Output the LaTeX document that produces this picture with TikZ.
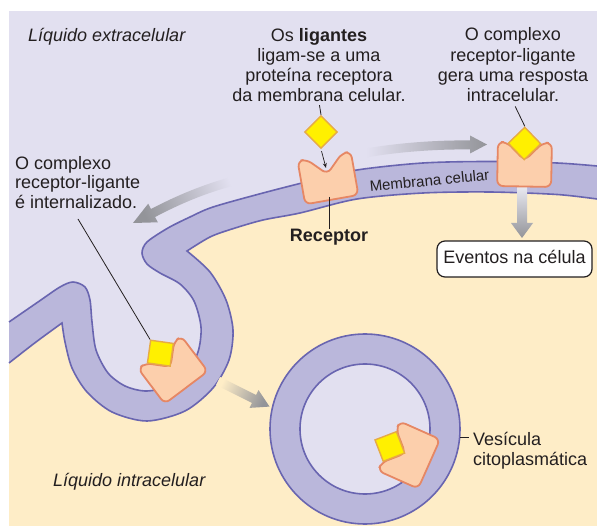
\documentclass[tikz,border=0pt]{standalone}
\usepackage{fontspec}
\setmainfont{Liberation Sans}
\usetikzlibrary{shapes.geometric,calc,arrows.meta}

\definecolor{extrafluid}{HTML}{E2E0F0}
\definecolor{membfill}{HTML}{BAB7DB}
\definecolor{membline}{HTML}{6965B0}
\definecolor{cytofluid}{HTML}{FEEDC7}
\definecolor{recfill}{HTML}{FCCFAC}
\definecolor{recline}{HTML}{E68764}
\definecolor{ligfill}{HTML}{FFF000}
\definecolor{ligline}{HTML}{E6AA46}
\definecolor{arrowgray}{HTML}{939499}
\definecolor{arrowtop}{HTML}{E8E8F0}
\definecolor{inktext}{HTML}{231F20}

\tikzset{
  every node/.style={text=inktext},
  label18/.style={font=\fontsize{18}{20.2}\selectfont, inner sep=0pt},
  membedge/.style={draw=membline, line width=1.6pt},
  ligand/.style={diamond, aspect=1, draw=ligline, fill=ligfill, line width=1.4pt,
                 minimum size=33pt, inner sep=0pt},
  leader/.style={draw=inktext, line width=0.8pt},
  receptor/.pic={
    \draw[fill=recfill, draw=recline, line width=1.8pt, rounded corners=6pt]
      (-27,22) -- (-27,-22) -- (-18,-22) -- (0,-4) -- (18,-22) -- (27,-22) -- (27,22) -- cycle;
  },
}

\begin{document}
\begin{tikzpicture}[x=1pt,y=-1pt]
\useasboundingbox (0,0) rectangle (597,526);

% extracellular fluid
\fill[extrafluid] (9,11) rectangle (597,526);

% membrane band: everything below the outer surface
\fill[membfill] plot[smooth] coordinates {
  (9,322) (38,302) (60,287) (73,282) (85,287) (90,300) (92,322) (96,350) (108,373)
  (125,386) (145,391) (167,387) (186,374) (198,352) (201,327) (194,301) (180,284)
  (160,273) (147,264) (142,253) (147,242) (168,228) (190,217) (213,207) (263,193)
  (310,181) (357,170) (423,163) (490,161.5) (557,163) (597,166)}
  -- (597,526) -- (9,526) -- cycle;

% cytoplasm: everything below the inner surface
\fill[cytofluid] plot[smooth] coordinates {(9,363) (36,342) (62,323)}
  -- plot[smooth] coordinates {(62,323) (65,342) (72,368) (87,392) (112,412) (147,421)
     (185,411) (213,388) (229,360) (233,330) (226,300) (210,272) (187,251)}
  -- plot[smooth] coordinates {(187,251) (210,237) (232,229) (263,220) (300,213)
     (357,199) (423,193) (490,192) (557,194.5) (597,199)}
  -- (597,526) -- (9,526) -- cycle;

% membrane outlines
\draw[membedge] plot[smooth] coordinates {
  (9,322) (38,302) (60,287) (73,282) (85,287) (90,300) (92,322) (96,350) (108,373)
  (125,386) (145,391) (167,387) (186,374) (198,352) (201,327) (194,301) (180,284)
  (160,273) (147,264) (142,253) (147,242) (168,228) (190,217) (213,207) (263,193)
  (310,181) (357,170) (423,163) (490,161.5) (557,163) (597,166)};
\draw[membedge] plot[smooth] coordinates {(9,363) (36,342) (62,323)}
  -- plot[smooth] coordinates {(62,323) (65,342) (72,368) (87,392) (112,412) (147,421)
     (185,411) (213,388) (229,360) (233,330) (226,300) (210,272) (187,251)}
  -- plot[smooth] coordinates {(187,251) (210,237) (232,229) (263,220) (300,213)
     (357,199) (423,193) (490,192) (557,194.5) (597,199)};

% cytoplasmic vesicle
\node[circle, draw=membline, fill=membfill, line width=1.6pt, minimum size=190pt, inner sep=0pt]
  (ves) at (365,429) {};
\node[circle, draw=membline, fill=extrafluid, line width=1.6pt, minimum size=130pt, inner sep=0pt]
  (vesin) at (365,429) {};

% process arrows
\shade[left color=extrafluid, right color=arrowgray]
  (366,148.5) .. controls (400,142.5) and (440,140) .. (470,140.5)
  -- (470,135.5) -- (487,144.5) -- (470,153.5) -- (470,149.5)
  .. controls (440,149) and (400,151.5) .. (366,157.5) -- cycle;
\shade[top color=extrafluid, bottom color=arrowgray, shading angle=-68]
  (240,174.6) .. controls (204,183.6) and (176,196) .. (151,209)
  -- (148.2,203.7) -- (133,223) -- (157.8,222.3) -- (155.1,217)
  .. controls (180,204) and (206,192.4) .. (242,183.4) -- cycle;
\shade[top color=cytofluid, bottom color=arrowgray, shading angle=63.4]
  (220,377) -- (256,395) -- (258.5,390.1) -- (269.5,406.6) -- (249.5,407.9)
  -- (252,403) -- (216,385) -- cycle;
\shade[top color=arrowtop, bottom color=arrowgray]
  (517,187) -- (527,187) -- (527,223) -- (533,223) -- (522,238) -- (511,223)
  -- (517,223) -- cycle;

% receptors and ligands
\pic[rotate=10] at (328,178) {receptor};
\pic[rotate=-1] at (524.5,164.5) {receptor};
\pic[rotate=37] at (173,370) {receptor};
\pic[rotate=66] at (409,455) {receptor};

\node[ligand] (lig1) at (321,132) {};
\node[ligand, rotate=-1] (lig2) at (524.5,143.5) {};
\node[ligand, rotate=37] (lig3) at (160.4,353.2) {};
\node[ligand, rotate=66] (lig4) at (389.8,446.5) {};

% labels
\node[label18, anchor=base west] (extlbl) at (28,41.5) {\itshape Líquido extracelular};
\node[label18, anchor=base west] (intralbl) at (53,486) {\itshape Líquido intracelular};
\node[label18, align=center, anchor=north] (ligtxt) at (319,28)
  {Os \textbf{ligantes}\\ligam-se a uma\\proteína receptora\\da membrana celular.};
\node[label18, align=center, anchor=north] (resptxt) at (513,27.7)
  {O complexo\\receptor-ligante\\gera uma resposta\\intracelular.};
\node[font=\fontsize{18}{19.5}\selectfont, inner sep=0pt, align=left, anchor=north west]
  (intlbl) at (15,156.2) {O complexo\\receptor-ligante\\é internalizado.};
\node[label18, align=left, anchor=north west] (vestxt) at (473,431.6)
  {Vesícula\\citoplasmática};
\node[font=\fontsize{15}{18}\selectfont, inner sep=0pt, rotate=5.5, anchor=base]
  (memlbl) at (430,186) {Membrana celular};
\node[label18, anchor=base] (reclbl) at (329,242) {\bfseries Receptor};
\node[font=\fontsize{18}{20.2}\selectfont, draw=inktext, fill=white, rounded corners=8pt,
      line width=1.2pt, minimum width=155pt, minimum height=36pt, inner sep=0pt,
      text height=13pt, text depth=4pt] (evbox) at (514.5,259) {Eventos na célula};

% leader lines
\coordinate (r1foot) at (329,197);
\coordinate (r1notch) at (326,168);
\coordinate (intfoot) at (78,219);
\draw[leader, shorten <=3pt] (ligtxt.south) -- (lig1.north);
\draw[leader, shorten <=5pt] (resptxt.south) -- (lig2.north);
\draw[leader] (r1foot) -- (reclbl.north);
\draw[leader] (intfoot) -- (lig3.north);
\draw[leader, shorten >=4pt] (ves.-5) -- (ves.-5 -| vestxt.west);
\draw[inktext, line width=0.7pt, -{Stealth[length=5pt,width=4pt]}, shorten <=2pt]
  (lig1.south) -- (r1notch);
\end{tikzpicture}
\end{document}
